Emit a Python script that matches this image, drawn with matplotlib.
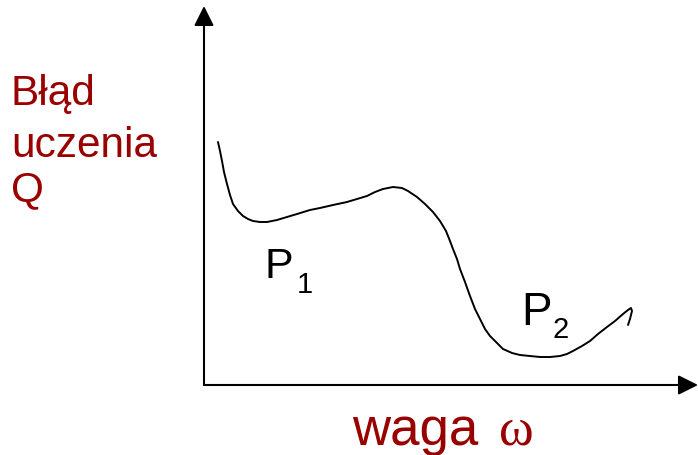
#!/usr/bin/env python3
"""Schematic: training error Q versus weight omega, with two minima P1 and P2."""

import matplotlib

matplotlib.use("Agg")
import matplotlib.pyplot as plt

# curve, in pixel-like units (y grows downward)
CURVE_X = [218, 220, 222, 224, 227, 230, 233, 238, 243, 248, 253, 260, 267,
           277, 287, 297, 310, 320, 333, 347, 357, 367, 375, 383, 393, 402,
           408, 417, 425, 433, 440, 446, 450, 453, 457, 460, 465, 470, 475,
           480, 485, 490, 497, 503, 512, 520, 530, 540, 550, 560, 567, 573,
           582, 590, 598, 607, 615, 623, 628, 631, 632, 630, 628]
CURVE_Y = [143, 152, 162, 173, 185, 196, 205, 212, 217, 220, 222, 223, 223,
           221, 218, 215, 211, 209, 206, 203, 200, 197, 193, 190, 188, 189,
           192, 198, 205, 213, 222, 232, 242, 250, 260, 270, 283, 297, 310,
           320, 330, 337, 344, 350, 354, 356, 357, 358, 358, 357, 355, 352,
           347, 342, 335, 328, 322, 315, 311, 309, 312, 320, 326]

Y_LABEL_LINES = ["Błąd", "uczenia", "Q"]
Y_LABEL_BASELINES = [105, 157, 201]
X_LABEL = "waga"
X_SYMBOL = "ω"
MINIMA = [("P", "1"), ("P", "2")]

LABEL_RED = "#990000"
FONT = "Liberation Sans"

W, H = 698, 456
ORIGIN = (204, 386)
X_TIP = 698
Y_TIP = 7


def axis_arrow(ax, start, end):
    ax.annotate(
        "",
        xy=end,
        xytext=start,
        arrowprops=dict(
            arrowstyle="-|>,head_length=0.8,head_width=0.4",
            lw=1.5,
            color="black",
            mutation_scale=15,
            shrinkA=0,
            shrinkB=0,
        ),
    )


def main():
    fig = plt.figure(figsize=(W / 100, H / 100), dpi=100)
    ax = fig.add_axes([0, 0, 1, 1])
    ax.set_xlim(0, W)
    ax.set_ylim(H, 0)
    ax.axis("off")

    axis_arrow(ax, ORIGIN, (ORIGIN[0], Y_TIP))
    axis_arrow(ax, ORIGIN, (X_TIP, ORIGIN[1]))

    ax.plot(CURVE_X, CURVE_Y, color="black", lw=1.4, solid_joinstyle="round",
            solid_capstyle="round")

    for text, base in zip(Y_LABEL_LINES, Y_LABEL_BASELINES):
        ax.text(11, base, text, fontsize=30.5, family=FONT, color=LABEL_RED,
                ha="left", va="baseline")

    ax.text(352, 445, X_LABEL, fontsize=38, family=FONT, color=LABEL_RED,
            ha="left", va="baseline")
    ax.text(499, 445, X_SYMBOL, fontsize=38, family="Liberation Serif",
            color=LABEL_RED, ha="left", va="baseline")

    # minima labels with subscripts
    for (p, sub), (x, base, size, sx, sbase) in zip(
        MINIMA, [(264, 278, 31, 297, 293), (521, 325, 33, 553, 338)]
    ):
        ax.text(x, base, p, fontsize=size, family=FONT, color="black",
                ha="left", va="baseline")
        ax.text(sx, sbase, sub, fontsize=21, family=FONT, color="black",
                ha="left", va="baseline")

    fig.savefig("out.png", dpi=100)
    plt.close(fig)


if __name__ == "__main__":
    main()
